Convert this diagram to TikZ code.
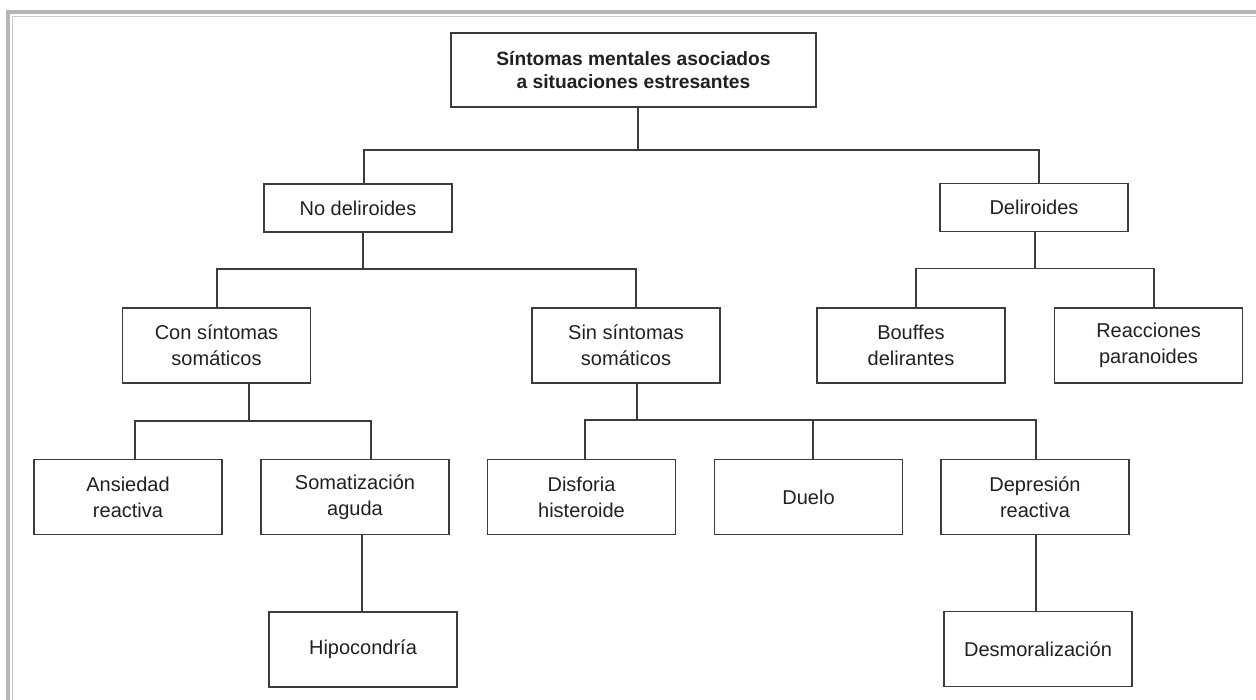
\documentclass[tikz,border=0pt]{standalone}
\usepackage{fontspec}
\setmainfont{Liberation Sans}
\usetikzlibrary{positioning,calc}
\definecolor{lnkgray}{RGB}{60,60,60}
\definecolor{txtblk}{RGB}{35,31,32}
\definecolor{frmgray}{RGB}{182,182,184}
\definecolor{frmlight}{RGB}{205,205,207}
\tikzset{
  bx/.style={draw=lnkgray, line width=0.8pt, text=txtblk, align=center, inner sep=0pt,
    minimum width=94pt, minimum height=37.5pt, font=\fontsize{10}{13}\selectfont},
  bxs/.style={bx, minimum height=24pt},
  ttlbx/.style={bx, minimum width=182.5pt, minimum height=37pt,
    font=\fontsize{9.6}{11.8}\selectfont\bfseries},
  lnk/.style={lnkgray, line width=0.8pt},
  frm/.style={frmgray, line width=2pt},
  frmthin/.style={frmlight, line width=0.6pt},
}
\begin{document}
\begin{tikzpicture}[x=0.5pt,y=-0.5pt]
  \useasboundingbox (0,0) rectangle (1256,700);
  % frame on top and left
  \draw[frm] (8,700) |- (1256,12);
  \draw[frmthin] (12.5,700) |- (1256,16.5);

  \node[ttlbx] (root) at (633.5,70) {Síntomas mentales asociados\\a situaciones estresantes};
  \node[bxs] (nodel) at (358,208) {No deliroides};
  \node[bxs] (del) at (1034,207.5) {Deliroides};
  \node[bx] (con) at (216.5,345.5) {Con síntomas\\somáticos};
  \node[bx] (sin) at (626,345.5) {Sin síntomas\\somáticos};
  \node[bx] (bouf) at (911,345.5) {Bouffes\\delirantes};
  \node[bx] (reac) at (1148.5,345.5) {Reacciones\\paranoides};
  \node[bx] (ans) at (128,497) {Ansiedad\\reactiva};
  \node[bx] (soma) at (355,497) {Somatización\\aguda};
  \node[bx] (disf) at (581.5,497) {Disforia\\histeroide};
  \node[bx] (duelo) at (808.5,497) {Duelo};
  \node[bx] (depr) at (1035,497) {Depresión\\reactiva};
  \node[bx] (hipo) at (363,649.5) {Hipocondría};
  \node[bx] (desm) at (1038,649) {Desmoralización};

  % trunks
  \draw[lnk] ($(root.south)+(4.5,0)$) -- ++(0,42) coordinate (jroot);
  \draw[lnk] ($(nodel.south)+(5,0)$) -- ++(0,36) coordinate (jnodel);
  \draw[lnk] ($(del.south)+(1,0)$) -- ++(0,36) coordinate (jdel);
  \draw[lnk] ($(con.south)+(32.5,0)$) -- ++(0,37) coordinate (jcon);
  \draw[lnk] ($(sin.south)+(11,0)$) -- ++(0,36) coordinate (jsin);
  % branches
  \foreach \c/\dx in {nodel/6,del/5}
    \draw[lnk] (jroot) -| ($(\c.north)+(\dx,0)$);
  \foreach \c/\dx in {con/0.5,sin/10}
    \draw[lnk] (jnodel) -| ($(\c.north)+(\dx,0)$);
  \foreach \c/\dx in {bouf/5,reac/5.5}
    \draw[lnk] (jdel) -| ($(\c.north)+(\dx,0)$);
  \foreach \c/\dx in {ans/7,soma/16}
    \draw[lnk] (jcon) -| ($(\c.north)+(\dx,0)$);
  \foreach \c/\dx in {disf/3.5,duelo/4.5,depr/1}
    \draw[lnk] (jsin) -| ($(\c.north)+(\dx,0)$);
  \draw[lnk] ($(soma.south)+(7,0)$) -- ($(hipo.north)+(-1,0)$);
  \draw[lnk] ($(depr.south)+(1,0)$) -- ($(desm.north)+(-2,0)$);
\end{tikzpicture}
\end{document}
